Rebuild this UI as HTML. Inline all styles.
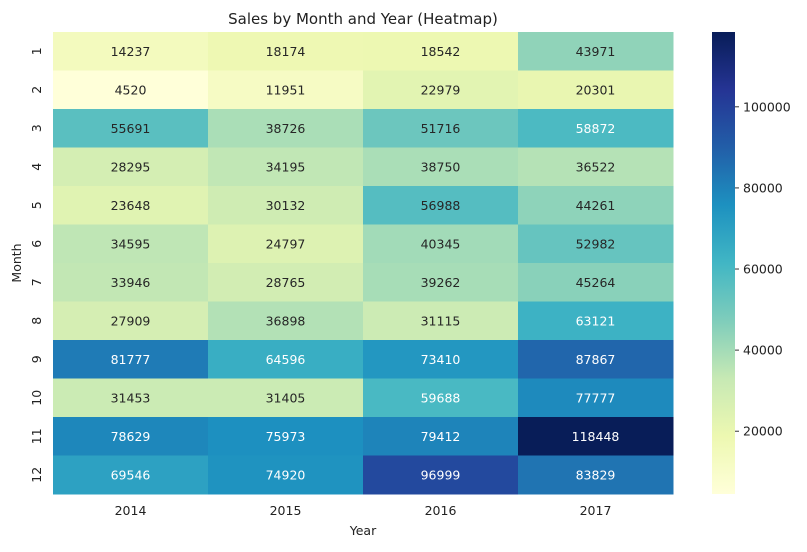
<!DOCTYPE html>
<html><head><meta charset="utf-8"><style>
body{margin:0;background:#fff;font-family:"Liberation Sans","DejaVu Sans",sans-serif}
svg text{font-family:"DejaVu Sans","Liberation Sans",sans-serif}
</style></head><body>
<svg id="c" width="807" height="547" xmlns="http://www.w3.org/2000/svg">
<text x="363" y="24" font-size="15" text-anchor="middle" fill="#222">Sales by Month and Year (Heatmap)</text>
<text x="363" y="535" font-size="12.5" text-anchor="middle" fill="#222">Year</text>
<text x="21" y="263" font-size="12.5" text-anchor="middle" fill="#222" transform="rotate(-90 21 263)">Month</text>
<g id="cells"></g>
<defs><linearGradient id="cg" x1="0" y1="1" x2="0" y2="0">
<stop offset="0" stop-color="#ffffd9"/><stop offset="0.125" stop-color="#edf8b1"/><stop offset="0.25" stop-color="#c7e9b4"/><stop offset="0.375" stop-color="#7fcdbb"/><stop offset="0.5" stop-color="#41b6c4"/><stop offset="0.625" stop-color="#1d91c0"/><stop offset="0.75" stop-color="#225ea8"/><stop offset="0.875" stop-color="#253494"/><stop offset="1" stop-color="#081d58"/>
</linearGradient></defs>
<rect x="712" y="32" width="23" height="462" fill="url(#cg)"/>
<g id="cb"></g>
</svg>
<script>
const years=["2014","2015","2016","2017"];
const months=["1","2","3","4","5","6","7","8","9","10","11","12"];
const v2014=[14237,4520,55691,28295,23648,34595,33946,27909,81777,31453,78629,69546];
const v2015=[18174,11951,38726,34195,30132,24797,28765,36898,64596,31405,75973,74920];
const v2016=[18542,22979,51716,38750,56988,40345,39262,31115,73410,59688,79412,96999];
const v2017=[43971,20301,58872,36522,44261,52982,45264,63121,87867,77777,118448,83829];
const cbTicks=[20000,40000,60000,80000,100000];
const cols=[v2014,v2015,v2016,v2017];
const stops=["#ffffd9","#edf8b1","#c7e9b4","#7fcdbb","#41b6c4","#1d91c0","#225ea8","#253494","#081d58"].map(h=>[1,3,5].map(i=>parseInt(h.substr(i,2),16)));
const all=cols.flat();const vmin=Math.min(...all),vmax=Math.max(...all);
const L=53,T=32,W=620,H=462,cw=W/years.length,rh=H/months.length;
function color(v){let t=(v-vmin)/(vmax-vmin)*8;let i=Math.min(7,Math.floor(t));let f=t-i;return stops[i].map((c,k)=>Math.round(c+(stops[i+1][k]-c)*f));}
function lum(c){const l=c.map(x=>{x/=255;return x<=0.03928?x/12.92:Math.pow((x+0.055)/1.055,2.4)});return 0.2126*l[0]+0.7152*l[1]+0.0722*l[2];}
function cbY(v){return T+H-(v-vmin)/(vmax-vmin)*H;}
const NS="http://www.w3.org/2000/svg";const g=document.getElementById('cells');
function mk(tag,at,txt){const e=document.createElementNS(NS,tag);for(const k in at)e.setAttribute(k,at[k]);if(txt!=null)e.textContent=txt;return e;}
cols.forEach((col,j)=>{col.forEach((v,i)=>{const c=color(v);
const r=mk('rect',{x:L+j*cw,y:T+i*rh,width:cw+0.5,height:rh+0.5,fill:`rgb(${c})`});

g.appendChild(r);
const t=mk('text',{x:L+(j+0.5)*cw,y:T+(i+0.5)*rh+4.5,'font-size':12.5,'text-anchor':'middle',fill:lum(c)>0.408?'#262626':'#fff'},v);

g.appendChild(t);});});
years.forEach((y,j)=>{const t=mk('text',{x:L+(j+0.5)*cw,y:515,'font-size':12.5,'text-anchor':'middle',fill:'#222'},y);

g.appendChild(t);});
months.forEach((m,i)=>{const cy=T+(i+0.5)*rh;const t=mk('text',{x:41,y:cy,'font-size':12.5,'text-anchor':'middle',fill:'#222',transform:`rotate(-90 41 ${cy})`},m);

g.appendChild(t);});
const cb=document.getElementById('cb');
cbTicks.forEach(v=>{const y=cbY(v);cb.appendChild(mk('line',{x1:735,x2:739,y1:y,y2:y,stroke:'#333'}));
const t=mk('text',{x:743,y:y+4.5,'font-size':12.5,fill:'#222'},v);

cb.appendChild(t);});
</script>
</body></html>
